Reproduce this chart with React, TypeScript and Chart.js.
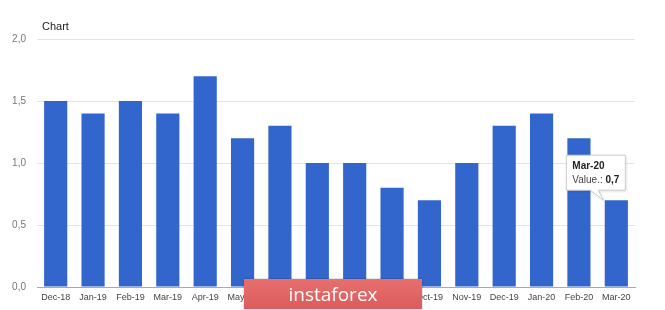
import React, { useEffect, useRef } from "react";
import { Chart, registerables } from "chart.js";

Chart.register(...registerables);

const categories = ["Dec-18", "Jan-19", "Feb-19", "Mar-19", "Apr-19", "May-19", "Jun-19", "Jul-19", "Aug-19", "Sep-19", "Oct-19", "Nov-19", "Dec-19", "Jan-20", "Feb-20", "Mar-20"];
const values = [1.5, 1.4, 1.5, 1.4, 1.7, 1.2, 1.3, 1.0, 1.0, 0.8, 0.7, 1.0, 1.3, 1.4, 1.2, 0.7];
const yTicks = [0, 0.5, 1.0, 1.5, 2.0];
const chartTitle = "Chart";
const tooltipIndex = 15;
const tooltipLabel = "Value.:";

const fmt = (v: number) => v.toFixed(1).replace(".", ",");

const overlayPlugin = {
  id: "overlay",
  afterDraw(chart: any) {
    const ctx = chart.ctx;
    const area = chart.chartArea;
    ctx.save();
    // title
    ctx.fillStyle = "#222";
    ctx.font = "11px Arial, 'Liberation Sans', sans-serif";
    ctx.textBaseline = "middle";
    ctx.textAlign = "left";
    ctx.fillText(chartTitle, area.left + 5, 27);

    // tooltip callout
    const el = chart.getDatasetMeta(0).data[tooltipIndex];
    if (el) {
      const bx = el.x + 9 - 59;
      const by = el.y - 45;
      const w = 59;
      const h = 35;
      const tipX = el.x - 13;
      const tipY = el.y;
      ctx.beginPath();
      ctx.moveTo(bx, by);
      ctx.lineTo(bx + w, by);
      ctx.lineTo(bx + w, by + h);
      ctx.lineTo(bx + 32, by + h);
      ctx.lineTo(tipX, tipY);
      ctx.lineTo(bx + 24, by + h);
      ctx.lineTo(bx, by + h);
      ctx.closePath();
      ctx.shadowColor = "rgba(0,0,0,0.15)";
      ctx.shadowBlur = 3;
      ctx.shadowOffsetX = 1;
      ctx.shadowOffsetY = 1;
      ctx.fillStyle = "#ffffff";
      ctx.fill();
      ctx.shadowColor = "transparent";
      ctx.strokeStyle = "#cccccc";
      ctx.lineWidth = 1;
      ctx.stroke();
      ctx.textAlign = "left";
      ctx.textBaseline = "middle";
      ctx.fillStyle = "#222";
      ctx.font = "bold 10px Arial, 'Liberation Sans', sans-serif";
      ctx.fillText(categories[tooltipIndex], bx + 6, by + 11);
      ctx.font = "10px Arial, 'Liberation Sans', sans-serif";
      ctx.fillStyle = "#444";
      ctx.fillText(tooltipLabel, bx + 6, by + 25);
      const lw = ctx.measureText(tooltipLabel + " ").width;
      ctx.font = "bold 10px Arial, 'Liberation Sans', sans-serif";
      ctx.fillStyle = "#222";
      ctx.fillText(fmt(values[tooltipIndex]), bx + 6 + lw, by + 25);
    }
    ctx.restore();
  },
};

export default function App() {
  const ref = useRef<HTMLCanvasElement>(null);
  useEffect(() => {
    if (!ref.current) return;
    const chart = new Chart(ref.current, {
      type: "bar",
      data: {
        labels: categories,
        datasets: [
          {
            data: values,
            backgroundColor: "#3366cc",
            categoryPercentage: 1,
            barPercentage: 0.62,
          },
        ],
      },
      options: {
        responsive: false,
        animation: false,
        layout: { padding: { top: 39, right: 30, left: 0, bottom: 0 } },
        plugins: { legend: { display: false }, tooltip: { enabled: false }, title: { display: false } },
        scales: {
          x: {
            grid: { display: false, drawTicks: false },
            border: { display: true, color: "#aaaaaa" },
            ticks: {
              color: "#444",
              font: { size: 9, family: "Arial, 'Liberation Sans', sans-serif" },
              maxRotation: 0,
              autoSkip: false,
              padding: 5,
            },
            afterFit: (s: any) => {
              s.height = 23;
            },
          },
          y: {
            min: 0,
            max: 2,
            afterBuildTicks: (s: any) => {
              s.ticks = yTicks.map((v) => ({ value: v }));
            },
            grid: { color: "#e4e4e4", drawTicks: false },
            border: { display: false },
            ticks: {
              color: "#777",
              padding: 11,
              font: { size: 10, family: "Arial, 'Liberation Sans', sans-serif" },
              callback: (v: any) => fmt(Number(v)),
            },
            afterFit: (s: any) => {
              s.width = 37;
            },
          },
        },
      },
      plugins: [overlayPlugin],
    });
    return () => chart.destroy();
  }, []);
  return (
    <div style={{ position: "fixed", left: 0, top: 0, width: 665, height: 310, background: "#fff", overflow: "hidden" }}>
      <canvas ref={ref} width={665} height={310} style={{ display: "block" }} />
      <div
        style={{
          position: "absolute",
          left: 244,
          top: 279,
          width: 178,
          height: 30,
          background: "linear-gradient(#e86f6f, #db5c5c)",
          boxShadow: "0 0 2px rgba(0,0,0,0.3)",
          color: "#fff",
          fontFamily: "'Open Sans', 'DejaVu Sans', sans-serif",
          fontSize: 19,
          lineHeight: "30px",
          textAlign: "center",
        }}
      >
        instaforex
      </div>
    </div>
  );
}
